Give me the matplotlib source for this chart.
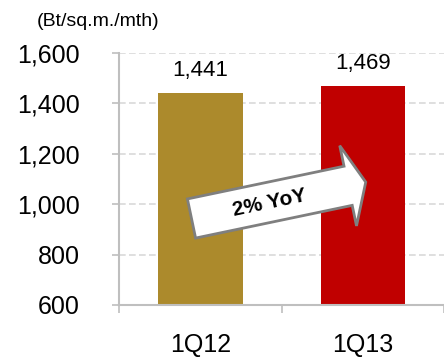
import numpy as np
import matplotlib
matplotlib.use("Agg")
from matplotlib import pyplot as plt
from matplotlib.patches import Polygon

# Average rental rate per quarter
quarters = ["1Q12", "1Q13"]
rates = [1441, 1469]
bar_colors = ["#AC8A2C", "#C00000"]
yoy_label = "2% YoY"
unit_label = "(Bt/sq.m./mth)"

plt.rcParams['font.family'] = ['Liberation Sans', 'DejaVu Sans']

W, H = 444, 358
fig = plt.figure(figsize=(W / 100, H / 100), dpi=100)
ax = fig.add_axes([119 / W, 1 - 305 / H, 1 - 119 / W, (305 - 53) / H])

x = np.arange(len(quarters))
bars = ax.bar(x, rates, width=0.52, color=bar_colors, zorder=2)

# value labels above each bar
for xi, val in zip(x, rates):
    ax.annotate(f"{val:,}", (xi, val), xytext=(0, 9), textcoords="offset points",
                ha="center", va="bottom", fontsize=16)

ax.set_xlim(-0.5, len(quarters) - 0.5)
ax.set_ylim(600, 1600)
ax.set_yticks(range(600, 1601, 200))
ax.yaxis.set_major_formatter(matplotlib.ticker.FuncFormatter(lambda v, p: f"{int(v):,}"))
ax.set_xticks(x)
ax.set_xticklabels(quarters)
ax.set_xticks(np.arange(-0.5, len(quarters)), minor=True)

grey = "#BFBFBF"
ax.grid(axis="y", color="#D9D9D9", linestyle=(0, (4, 2)), linewidth=1.2, zorder=0)
ax.tick_params(axis="y", length=5, width=1.2, color=grey, pad=23, labelsize=18)
ax.tick_params(axis="x", which="major", length=0, pad=20, labelsize=18)
ax.tick_params(axis="x", which="minor", length=6, width=1.2, color=grey)
for side in ["top", "right"]:
    ax.spines[side].set_visible(False)
for side in ["left", "bottom"]:
    ax.spines[side].set_color(grey)
    ax.spines[side].set_linewidth(1.5)

fig.text(37 / W, 1 - 22 / H, unit_label, fontsize=14, ha="left", va="center")

# growth arrow, laid out in pixels then mapped to figure fraction
theta = np.deg2rad(11.8)
cx, cy = 191.5, 218.5
u = np.array([np.cos(theta), -np.sin(theta)])
v = np.array([np.sin(theta), np.cos(theta)])
shape = [(0, -20), (160, -20), (160, -41), (178, 0), (160, 41), (160, 20), (0, 20)]
pts = []
for a, p in shape:
    px, py = np.array([cx, cy]) + a * u + p * v
    pts.append((px / W, 1 - py / H))
arrow = Polygon(pts, closed=True, facecolor="white", edgecolor="#7F7F7F",
                linewidth=2, transform=fig.transFigure, zorder=5)
fig.add_artist(arrow)

tx, ty = np.array([cx, cy]) + 80 * u + 1 * v
fig.text(tx / W, 1 - ty / H, yoy_label, fontsize=15, fontweight="bold",
         rotation=11.8, rotation_mode="anchor", ha="center", va="center", zorder=6)

fig.savefig("out.png", dpi=100)
